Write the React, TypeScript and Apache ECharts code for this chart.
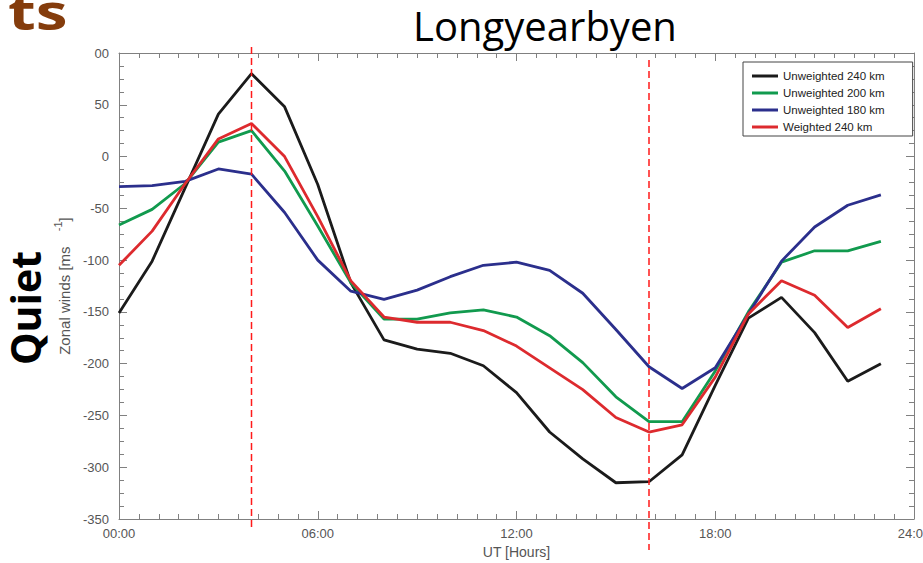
import React, { useEffect, useRef } from "react";
import * as echarts from "echarts";

const hours = [0, 1, 2, 3, 4, 5, 6, 7, 8, 9, 10, 11, 12, 13, 14, 15, 16, 17, 18, 19, 20, 21, 22, 23];

const unweighted240 = [-151, -101, -30, 41, 80, 48, -27, -122, -177, -186, -190, -202, -228, -266, -292, -315, -314, -288, -221, -156, -136, -170, -217, -200];
const unweighted200 = [-66, -51, -26, 14, 25, -14, -67, -122, -157, -157, -151, -148, -155, -173, -199, -232, -256, -256, -207, -150, -102, -91, -91, -82];
const unweighted180 = [-29, -28, -24, -12, -17, -54, -100, -130, -138, -129, -116, -105, -102, -110, -132, -167, -203, -224, -204, -152, -101, -68, -47, -37];
const weighted240 = [-105, -72, -26, 17, 32, 0, -58, -120, -155, -160, -160, -168, -183, -204, -225, -252, -266, -259, -213, -152, -120, -134, -165, -147];

const seriesNames = ["Unweighted 240 km", "Unweighted 200 km", "Unweighted 180 km", "Weighted 240 km"];
const seriesColors = ["#1b1b1b", "#119a4e", "#2b2f8c", "#dd2a2e"];
const seriesValues = [unweighted240, unweighted200, unweighted180, weighted240];

const xTickValues = [0, 6, 12, 18, 24];
const xTickLabels = ["00:00", "06:00", "12:00", "18:00", "24:00"];
const yTickValues = [100, 50, 0, -50, -100, -150, -200, -250, -300, -350];
const yTickLabels = ["00", "50", "0", "-50", "-100", "-150", "-200", "-250", "-300", "-350"];

const eventHours = [4, 16];

const AXIS_COLOR = "#808080";
const LABEL_COLOR = "#555555";
const FONT = "Liberation Sans";

export default function App() {
  const ref = useRef<HTMLDivElement>(null);

  useEffect(() => {
    if (!ref.current) return;
    const chart = echarts.init(ref.current, undefined, { renderer: "svg" });

    const axisCommon = {
      type: "value" as const,
      axisLine: { show: true, onZero: false, lineStyle: { color: AXIS_COLOR, width: 1 } },
      axisTick: { show: true, inside: true, length: 8, lineStyle: { color: AXIS_COLOR } },
      minorTick: { show: true, length: 5, lineStyle: { color: AXIS_COLOR } },
      splitLine: { show: false },
    };

    const option: any = {
      animation: false,
      backgroundColor: "#ffffff",
      grid: { left: 119, right: 9, top: 53, bottom: 44, containLabel: false, outerBoundsMode: "none" },
      legend: {
        orient: "vertical",
        left: 743,
        top: 62,
        icon: "rect",
        itemWidth: 26,
        itemHeight: 3,
        itemGap: 3,
        padding: [7, 28, 2, 9],
        borderColor: "#444444",
        borderWidth: 1,
        backgroundColor: "#ffffff",
        textStyle: { fontFamily: FONT, fontSize: 11.5, lineHeight: 14, color: "#222222" },
        data: seriesNames,
      },
      xAxis: [
        {
          ...axisCommon,
          position: "bottom",
          min: 0,
          max: 24,
          interval: 6,
          minorTick: { ...axisCommon.minorTick, splitNumber: 10 },
          axisLabel: {
            color: LABEL_COLOR,
            fontFamily: FONT,
            fontSize: 13,
            margin: 8,
            formatter: (v: number) => xTickLabels[xTickValues.indexOf(v)] ?? "",
          },
          name: "UT [Hours]",
          nameLocation: "middle",
          nameGap: 25,
          nameTextStyle: { color: LABEL_COLOR, fontFamily: FONT, fontSize: 14 },
        },
        {
          ...axisCommon,
          position: "top",
          min: 0,
          max: 24,
          interval: 6,
          minorTick: { ...axisCommon.minorTick, splitNumber: 10 },
          axisLabel: { show: false },
        },
      ],
      yAxis: [
        {
          ...axisCommon,
          position: "left",
          min: -350,
          max: 100,
          interval: 50,
          minorTick: { ...axisCommon.minorTick, splitNumber: 4 },
          axisLabel: {
            color: LABEL_COLOR,
            fontFamily: FONT,
            fontSize: 13,
            margin: 10,
            formatter: (v: number) => yTickLabels[yTickValues.indexOf(v)] ?? "",
          },
          name: "{a|Zonal winds [ms}{s|     -1}{a|]}",
          nameLocation: "middle",
          nameGap: 41,
          nameRotate: 90,
          nameTextStyle: {
            color: LABEL_COLOR,
            fontFamily: FONT,
            fontSize: 15,
            rich: {
              a: { color: LABEL_COLOR, fontFamily: FONT, fontSize: 15 },
              s: { color: LABEL_COLOR, fontFamily: FONT, fontSize: 11, padding: [0, 0, 13, 0] },
            },
          },
        },
        {
          ...axisCommon,
          position: "right",
          min: -350,
          max: 100,
          interval: 50,
          minorTick: { ...axisCommon.minorTick, splitNumber: 4 },
          axisLabel: { show: false },
        },
      ],
      series: seriesNames.map((name, i) => ({
        name,
        type: "line",
        xAxisIndex: 0,
        yAxisIndex: 0,
        showSymbol: false,
        symbol: "none",
        color: seriesColors[i],
        lineStyle: { color: seriesColors[i], width: 2.8 },
        data: hours.map((h, j) => [h, seriesValues[i][j]]),
        z: 3 + i,
      })),
      graphic: [
        {
          type: "text",
          id: "ts",
          x: 8,
          y: 11,
          scaleX: 1.28,
          style: {
            text: "ts",
            fill: "#843c0c",
            font: "bold 50px 'Open Sans'",
            align: "left",
            verticalAlign: "middle",
          },
        },
        {
          type: "text",
          id: "title",
          x: 545,
          y: 25,
          style: {
            text: "Longyearbyen",
            fill: "#000000",
            font: "40px 'Open Sans'",
            align: "center",
            verticalAlign: "middle",
          },
        },
        {
          type: "text",
          id: "quiet",
          x: 25,
          y: 308,
          rotation: Math.PI / 2,
          style: {
            text: "Quiet",
            fill: "#000000",
            font: "bold 41px 'Open Sans'",
            align: "center",
            verticalAlign: "middle",
          },
        },
      ],
    };

    chart.setOption(option);

    const tops = [47, 60];
    const bottoms = [527, 550];
    const lines = eventHours.map((h, i) => {
      const px = chart.convertToPixel({ xAxisIndex: 0 }, h) as number;
      return {
        type: "line",
        id: "event" + i,
        z: 100,
        shape: { x1: px, y1: tops[i], x2: px, y2: bottoms[i] },
        style: { stroke: "#ff1a1a", lineWidth: 1.5, lineDash: [7, 4] },
      };
    });
    chart.setOption({ graphic: lines });

    return () => chart.dispose();
  }, []);

  return (
    <div
      ref={ref}
      style={{ position: "absolute", left: 0, top: 0, width: 923, height: 563 }}
    />
  );
}
